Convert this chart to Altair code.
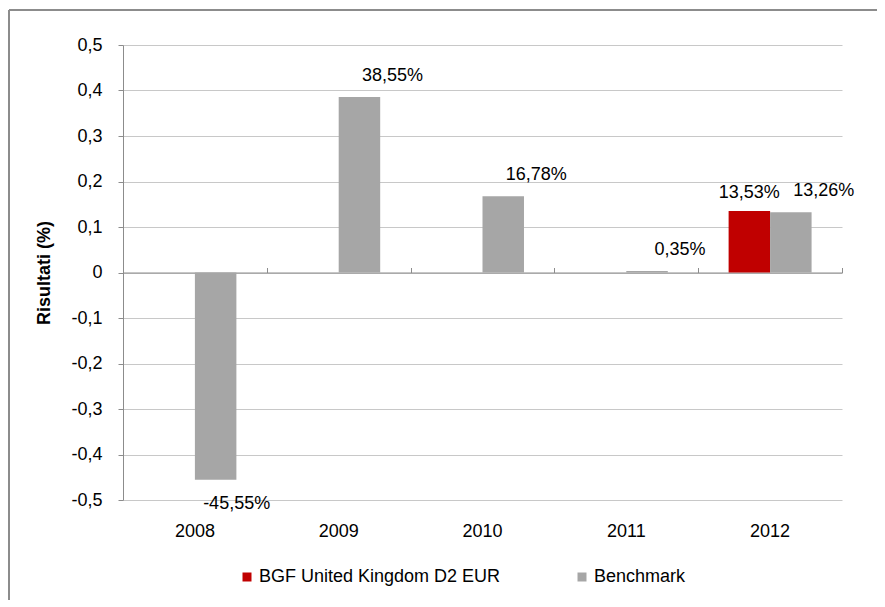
import altair as alt
import pandas as pd

years = ["2008", "2009", "2010", "2011", "2012"]
fund = [None, None, None, None, 0.1353]
bench = [-0.4555, 0.3855, 0.1678, 0.0035, 0.1326]
series_names = ["BGF United Kingdom D2 EUR", "Benchmark"]
colors = ["#c00000", "#a6a6a6"]
y_ticks = [-0.5, -0.4, -0.3, -0.2, -0.1, 0.0, 0.1, 0.2, 0.3, 0.4, 0.5]

rows = []
for i, yr in enumerate(years):
    if fund[i] is not None:
        rows.append({"year": yr, "series": series_names[0], "value": fund[i]})
    rows.append({"year": yr, "series": series_names[1], "value": bench[i]})
df = pd.DataFrame(rows)

FONT = "Liberation Sans"
FS = 18
W, H = 719, 455
AXIS_C = "#8c8c8c"
GRID_C = "#c8c8c8"

xscale = alt.Scale(domain=years, paddingInner=0, paddingOuter=0)
xoff = alt.XOffset("series:N", sort=series_names,
                   scale=alt.Scale(domain=series_names, paddingOuter=0.733, paddingInner=0))
yscale = alt.Scale(domain=[-0.5, 0.5], nice=False)

x_main = alt.X("year:N", sort=years, scale=xscale,
               axis=alt.Axis(title=None, ticks=False, domain=False, grid=False,
                             labelAngle=0, labelFontSize=FS, labelFont=FONT,
                             labelColor="black", labelPadding=22))
x_none = alt.X("year:N", sort=years, scale=xscale, axis=None)
y_main = alt.Y("value:Q", scale=yscale, stack=None,
               axis=alt.Axis(values=y_ticks, format=".1~f", title="Risultati (%)",
                             grid=True, gridColor=GRID_C, gridWidth=1,
                             domainColor=AXIS_C, tickColor=AXIS_C, tickSize=5,
                             labelFontSize=FS, labelFont=FONT, labelColor="black",
                             labelPadding=16,
                             titleFont=FONT, titleFontSize=FS, titleFontWeight="bold",
                             titleColor="black", titleAngle=270, titleX=-79,
                             titleY=227.5, titleAlign="center", titleBaseline="middle"))
y_none = alt.Y("value:Q", scale=yscale, stack=None, axis=None)

bars = alt.Chart(df).mark_bar().encode(
    x=x_main,
    xOffset=xoff,
    y=y_main,
    color=alt.Color("series:N", sort=series_names,
                    scale=alt.Scale(domain=series_names, range=colors),
                    legend=alt.Legend(orient="none", legendX=115, legendY=523,
                                      direction="horizontal", title=None,
                                      symbolType="square", symbolSize=81,
                                      symbolStrokeWidth=0, labelFontSize=FS,
                                      labelFont=FONT, labelColor="black",
                                      labelOffset=3, columnPadding=72,
                                      labelLimit=400, padding=0)),
)

zero_axis = alt.Chart(df).mark_point(opacity=0).encode(
    x=alt.X("year:N", sort=years, scale=xscale,
            axis=alt.Axis(title=None, labels=False, grid=False, offset=-227.5,
                          ticks=True, tickBand="extent", tickSize=5,
                          tickColor=AXIS_C, domainColor=AXIS_C)),
    y=y_none,
)

fund_text = alt.Chart(df).transform_filter(
    alt.datum.series == series_names[0]
).mark_text(dy=-18, baseline="middle", fontSize=FS, font=FONT, color="black").encode(
    x=x_none, xOffset=xoff, y=y_none, text=alt.Text("value:Q", format=".2%"))

bench_pos = alt.Chart(df).transform_filter(
    (alt.datum.series == series_names[1]) & (alt.datum.value >= 0)
).mark_text(dx=33, dy=-21, baseline="middle", fontSize=FS, font=FONT, color="black").encode(
    x=x_none, xOffset=xoff, y=y_none, text=alt.Text("value:Q", format=".2%"))

bench_neg = alt.Chart(df).transform_filter(
    (alt.datum.series == series_names[1]) & (alt.datum.value < 0)
).mark_text(dx=21, dy=24, baseline="middle", fontSize=FS, font=FONT, color="black").encode(
    x=x_none, xOffset=xoff, y=y_none, text=alt.Text("value:Q", format=".2%"))

frame_df = pd.DataFrame({"a": [0]})
frame_top = alt.Chart(frame_df).mark_rule(color="#8c8c8c", strokeWidth=2).encode(
    x=alt.value(-114), x2=alt.value(780), y=alt.value(-35))
frame_left = alt.Chart(frame_df).mark_rule(color="#8c8c8c", strokeWidth=2).encode(
    x=alt.value(-114), y=alt.value(-35), y2=alt.value(600))

chart = alt.layer(
    bars, zero_axis, fund_text, bench_pos, bench_neg, frame_top, frame_left
).resolve_axis(x="independent", y="independent").properties(
    width=W, height=H,
    autosize=alt.AutoSizeParams(type="none"),
    padding={"left": 115, "top": 37, "right": 35, "bottom": 100},
).configure(
    locale=alt.Locale(number=alt.NumberLocale(decimal=",", thousands=".", grouping=[3],
                                              currency=["€", ""], minus="-"))
).configure_view(stroke=None)

chart.save("out.html", embed_options={"renderer": "svg", "actions": False})
